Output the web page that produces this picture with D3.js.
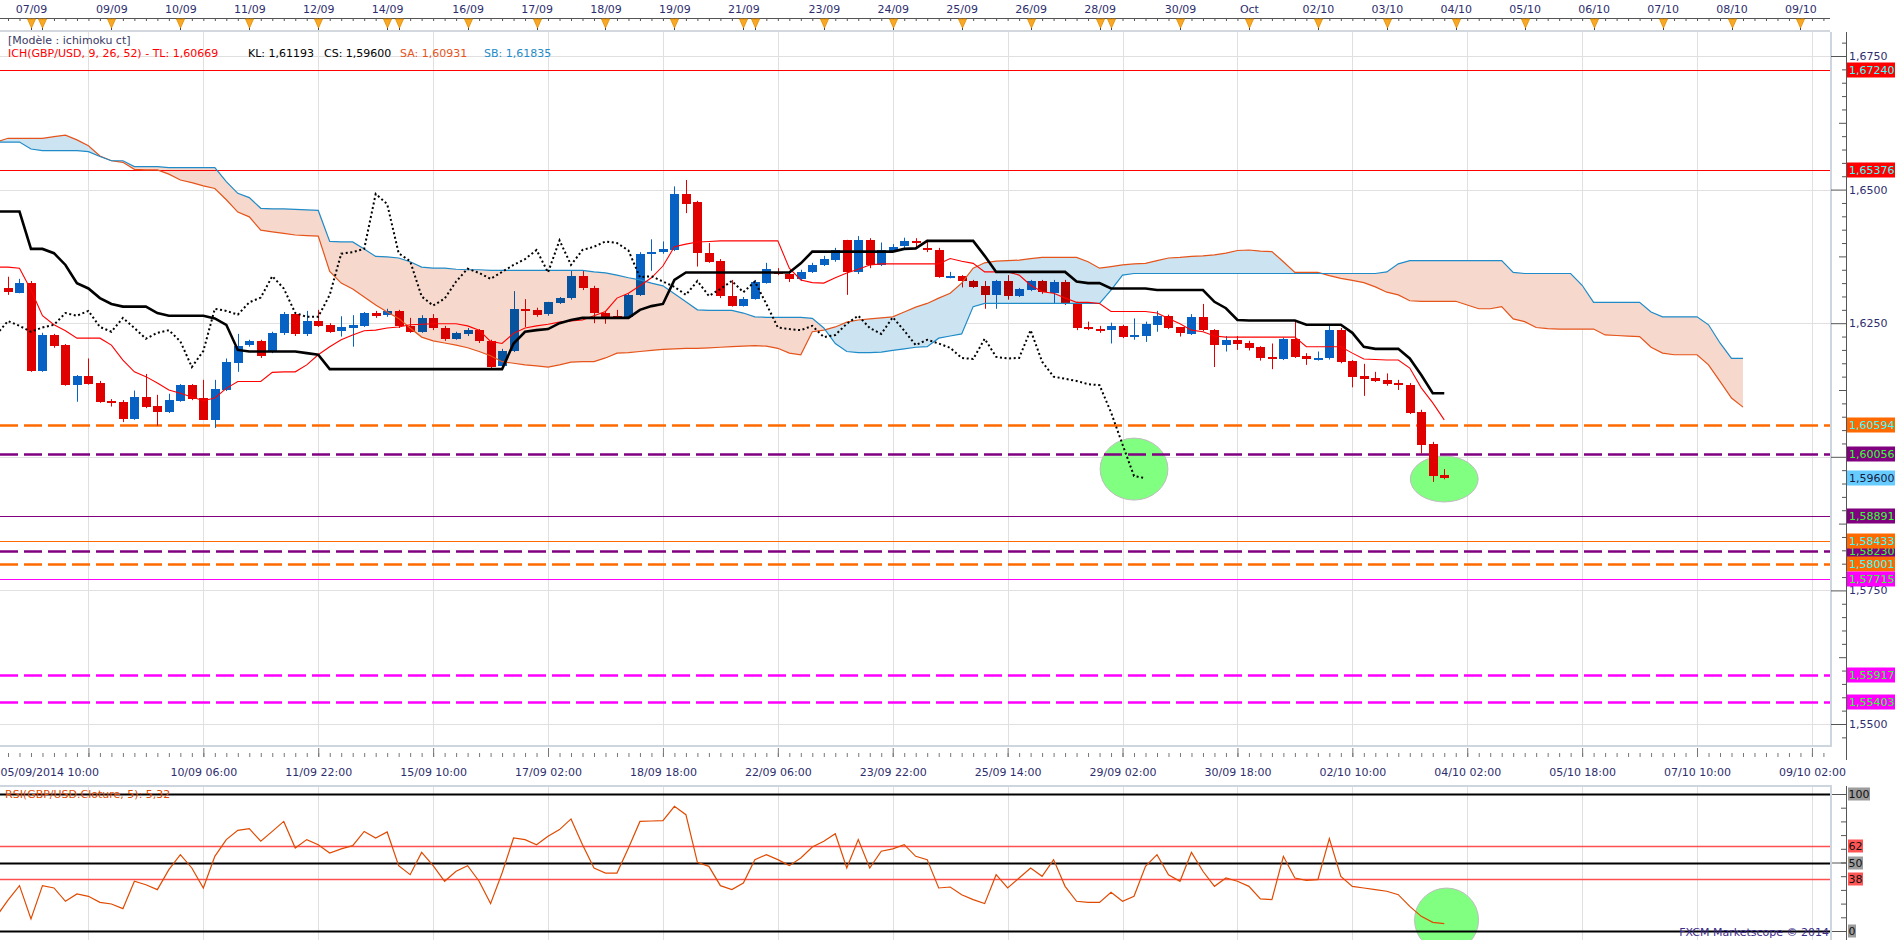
<!DOCTYPE html>
<html lang="fr">
<head>
<meta charset="UTF-8">
<title>GBP/USD H4 - Ichimoku</title>
<script src="https://d3js.org/d3.v7.min.js"></script>
<style>
  body { margin: 0; background: #ffffff; overflow: hidden; }
  svg { display: block; font-family: "DejaVu Sans", Verdana, sans-serif; font-size: 11px; }
  .cloud { mix-blend-mode: multiply; }
</style>
</head>
<body>
<svg width="1903" height="940"></svg>
<script>
// GBP/USD, bougies H4 du 05/09 au 03/10/2014 (index 0..125)
const open = [
  1.6315,1.6307,1.6325,1.6161,1.6228,1.6209,1.6135,1.6151,1.6139,1.6105,
  1.6103,1.6071,1.6112,1.6095,1.6084,1.6105,1.6135,1.6110,1.6069,1.6125,
  1.6176,1.6208,1.6216,1.6197,1.6232,1.6267,1.6229,1.6254,1.6247,1.6234,
  1.6241,1.6245,1.6269,1.6266,1.6272,1.6245,1.6234,1.6260,1.6241,1.6221,
  1.6230,1.6237,1.6217,1.6169,1.6198,1.6277,1.6275,1.6266,1.6289,1.6296,
  1.6338,1.6316,1.6270,1.6264,1.6262,1.6303,1.6380,1.6383,1.6387,1.6492,
  1.6476,1.6382,1.6366,1.6301,1.6283,1.6296,1.6326,1.6346,1.6343,1.6333,
  1.6346,1.6359,1.6368,1.6405,1.6345,1.6405,1.6359,1.6386,1.6393,1.6403,
  1.6390,1.6387,1.6335,1.6338,1.6329,1.6319,1.6303,1.6329,1.6301,1.6312,
  1.6329,1.6308,1.6328,1.6286,1.6242,1.6239,1.6237,1.6245,1.6224,1.6227,
  1.6247,1.6264,1.6242,1.6230,1.6261,1.6237,1.6209,1.6219,1.6213,1.6205,
  1.6187,1.6183,1.6221,1.6189,1.6184,1.6184,1.6237,1.6180,1.6151,1.6148,
  1.6144,1.6138,1.6135,1.6084,1.6024,1.5966];
const high = [
  1.6337,1.6333,1.6329,1.6232,1.6230,1.6211,1.6153,1.6184,1.6142,1.6108,
  1.6106,1.6124,1.6155,1.6116,1.6118,1.6136,1.6136,1.6144,1.6144,1.6184,
  1.6230,1.6219,1.6219,1.6234,1.6271,1.6271,1.6273,1.6275,1.6250,1.6263,
  1.6265,1.6271,1.6273,1.6277,1.6275,1.6260,1.6265,1.6267,1.6245,1.6234,
  1.6241,1.6239,1.6219,1.6202,1.6310,1.6295,1.6279,1.6290,1.6299,1.6348,
  1.6348,1.6320,1.6273,1.6275,1.6305,1.6383,1.6407,1.6403,1.6506,1.6518,
  1.6479,1.6400,1.6370,1.6331,1.6299,1.6331,1.6363,1.6353,1.6346,1.6350,
  1.6363,1.6376,1.6391,1.6406,1.6413,1.6409,1.6401,1.6398,1.6410,1.6409,
  1.6406,1.6391,1.6346,1.6340,1.6331,1.6329,1.6331,1.6340,1.6316,1.6331,
  1.6331,1.6331,1.6331,1.6290,1.6253,1.6245,1.6251,1.6247,1.6259,1.6253,
  1.6273,1.6266,1.6243,1.6267,1.6286,1.6239,1.6226,1.6226,1.6217,1.6207,
  1.6212,1.6223,1.6253,1.6194,1.6197,1.6245,1.6241,1.6181,1.6174,1.6159,
  1.6156,1.6144,1.6138,1.6088,1.6028,1.5977];
const low = [
  1.6303,1.6306,1.6159,1.6159,1.6204,1.6133,1.6103,1.6135,1.6101,1.6094,
  1.6065,1.6069,1.6091,1.6058,1.6082,1.6103,1.6106,1.6069,1.6054,1.6123,
  1.6159,1.6206,1.6185,1.6194,1.6228,1.6226,1.6226,1.6243,1.6232,1.6225,
  1.6206,1.6243,1.6260,1.6262,1.6241,1.6232,1.6232,1.6237,1.6217,1.6219,
  1.6226,1.6213,1.6166,1.6166,1.6196,1.6243,1.6262,1.6264,1.6286,1.6294,
  1.6312,1.6250,1.6249,1.6260,1.6260,1.6301,1.6348,1.6380,1.6385,1.6456,
  1.6356,1.6363,1.6297,1.6281,1.6281,1.6294,1.6324,1.6340,1.6327,1.6329,
  1.6344,1.6357,1.6365,1.6303,1.6342,1.6353,1.6357,1.6383,1.6391,1.6391,
  1.6383,1.6335,1.6334,1.6317,1.6316,1.6277,1.6277,1.6294,1.6299,1.6310,
  1.6305,1.6287,1.6284,1.6237,1.6237,1.6232,1.6212,1.6222,1.6219,1.6215,
  1.6234,1.6239,1.6225,1.6228,1.6235,1.6168,1.6197,1.6200,1.6199,1.6180,
  1.6164,1.6181,1.6185,1.6172,1.6180,1.6182,1.6175,1.6130,1.6114,1.6140,
  1.6133,1.6125,1.6080,1.6006,1.5953,1.5958];
const close = [
  1.6307,1.6325,1.6161,1.6228,1.6208,1.6135,1.6151,1.6136,1.6103,1.6102,
  1.6071,1.6112,1.6094,1.6084,1.6106,1.6135,1.6108,1.6069,1.6127,1.6178,
  1.6208,1.6216,1.6187,1.6232,1.6267,1.6229,1.6254,1.6245,1.6234,1.6242,
  1.6247,1.6269,1.6264,1.6273,1.6243,1.6234,1.6260,1.6241,1.6221,1.6232,
  1.6237,1.6216,1.6168,1.6198,1.6277,1.6273,1.6266,1.6289,1.6298,1.6338,
  1.6315,1.6269,1.6262,1.6262,1.6303,1.6380,1.6383,1.6389,1.6492,1.6473,
  1.6381,1.6366,1.6300,1.6283,1.6296,1.6328,1.6352,1.6344,1.6333,1.6346,
  1.6359,1.6370,1.6387,1.6345,1.6405,1.6359,1.6387,1.6393,1.6403,1.6400,
  1.6386,1.6336,1.6338,1.6328,1.6318,1.6303,1.6329,1.6301,1.6314,1.6329,
  1.6308,1.6328,1.6286,1.6242,1.6239,1.6237,1.6245,1.6224,1.6228,1.6249,
  1.6264,1.6241,1.6230,1.6261,1.6236,1.6209,1.6219,1.6212,1.6204,1.6185,
  1.6183,1.6221,1.6187,1.6184,1.6185,1.6237,1.6178,1.6150,1.6146,1.6142,
  1.6136,1.6134,1.6083,1.6023,1.5964,1.5960];

// lignes Ichimoku : le premier point est la bougie -1
const tenkan = [
  1.6355,1.6355,1.6353,1.6312,1.6264,1.6247,1.6236,1.6222,1.6222,1.6222,1.6209,
  1.6181,1.6159,1.6150,1.6138,1.6125,1.6119,1.6112,1.6105,1.6110,1.6128,
  1.6141,1.6141,1.6141,1.6158,1.6159,1.6159,1.6172,1.6191,1.6206,1.6219,
  1.6228,1.6236,1.6237,1.6241,1.6243,1.6247,1.6248,1.6249,1.6249,1.6249,
  1.6245,1.6237,1.6216,1.6212,1.6231,1.6241,1.6245,1.6248,1.6252,1.6254,
  1.6256,1.6264,1.6272,1.6297,1.6306,1.6320,1.6335,1.6357,1.6393,1.6398,
  1.6402,1.6403,1.6404,1.6404,1.6404,1.6404,1.6404,1.6404,1.6353,1.6331,
  1.6326,1.6325,1.6335,1.6344,1.6351,1.6359,1.6361,1.6361,1.6361,1.6361,
  1.6361,1.6361,1.6371,1.6366,1.6362,1.6346,1.6346,1.6346,1.6340,1.6321,
  1.6309,1.6306,1.6297,1.6289,1.6289,1.6287,1.6272,1.6272,1.6272,1.6272,
  1.6269,1.6259,1.6249,1.6237,1.6234,1.6226,1.6224,1.6224,1.6224,1.6224,
  1.6224,1.6224,1.6224,1.6206,1.6206,1.6206,1.6206,1.6194,1.6183,1.6182,
  1.6181,1.6181,1.6166,1.6129,1.6101,1.6069];
const kijun = [
  1.6459,1.6459,1.6459,1.6389,1.6389,1.6381,1.6359,1.6325,1.6315,1.6297,1.6286,
  1.6281,1.6281,1.6281,1.6269,1.6264,1.6264,1.6264,1.6264,1.6259,1.6247,
  1.6200,1.6197,1.6197,1.6197,1.6197,1.6197,1.6194,1.6191,1.6164,1.6164,
  1.6164,1.6164,1.6164,1.6164,1.6164,1.6164,1.6164,1.6164,1.6164,1.6164,
  1.6164,1.6164,1.6164,1.6164,1.6212,1.6234,1.6237,1.6239,1.6250,1.6256,
  1.6260,1.6260,1.6260,1.6260,1.6260,1.6275,1.6282,1.6286,1.6331,1.6345,
  1.6345,1.6345,1.6345,1.6345,1.6345,1.6345,1.6345,1.6345,1.6345,1.6362,
  1.6384,1.6384,1.6384,1.6384,1.6384,1.6384,1.6384,1.6384,1.6389,1.6390,
  1.6404,1.6404,1.6404,1.6404,1.6404,1.6376,1.6346,1.6346,1.6346,1.6346,
  1.6346,1.6346,1.6346,1.6328,1.6325,1.6325,1.6315,1.6315,1.6315,1.6315,
  1.6312,1.6312,1.6312,1.6312,1.6312,1.6290,1.6278,1.6256,1.6255,1.6255,
  1.6255,1.6255,1.6255,1.6247,1.6247,1.6247,1.6247,1.6232,1.6206,1.6202,
  1.6202,1.6202,1.6184,1.6153,1.6119,1.6119];
// Senkou spans, deja decales de 26 bougies (index -1 .. 151)
const spanA = [
  1.6589,
  1.6596,1.6596,1.6596,1.6596,1.6599,1.6602,1.6593,1.6582,1.6563,1.6554,
  1.6551,1.6538,1.6537,1.6537,1.6529,1.6518,1.6513,1.6507,1.6502,1.6481,
  1.6458,1.6449,1.6424,1.6421,1.6418,1.6415,1.6414,1.6413,1.6347,1.6325,
  1.6314,1.6299,1.6284,1.6271,1.6259,1.6241,1.6224,1.6217,1.6213,1.6209,
  1.6204,1.6197,1.6189,1.6178,1.6175,1.6172,1.6170,1.6168,1.6172,1.6177,
  1.6178,1.6178,1.6185,1.6194,1.6195,1.6197,1.6199,1.6201,1.6202,1.6203,
  1.6203,1.6204,1.6205,1.6206,1.6207,1.6208,1.6207,1.6203,1.6194,1.6191,
  1.6234,1.6237,1.6243,1.6252,1.6256,1.6258,1.6260,1.6262,1.6271,1.6280,
  1.6287,1.6297,1.6306,1.6325,1.6353,1.6363,1.6366,1.6367,1.6368,1.6371,
  1.6373,1.6373,1.6373,1.6373,1.6365,1.6353,1.6356,1.6359,1.6361,1.6362,
  1.6367,1.6372,1.6373,1.6375,1.6376,1.6378,1.6381,1.6386,1.6387,1.6385,
  1.6384,1.6365,1.6345,1.6345,1.6345,1.6339,1.6334,1.6330,1.6326,1.6318,
  1.6308,1.6303,1.6292,1.6291,1.6291,1.6291,1.6291,1.6284,1.6277,1.6277,
  1.6281,1.6258,1.6253,1.6242,1.6240,1.6239,1.6239,1.6239,1.6239,1.6228,
  1.6227,1.6226,1.6225,1.6205,1.6194,1.6191,1.6191,1.6191,1.6172,1.6141,
  1.6110,1.6093];
const spanB = [
  1.6589,
  1.6589,1.6589,1.6576,1.6573,1.6573,1.6573,1.6573,1.6571,1.6562,1.6554,
  1.6554,1.6543,1.6543,1.6543,1.6541,1.6541,1.6541,1.6541,1.6541,1.6515,
  1.6493,1.6485,1.6465,1.6464,1.6464,1.6463,1.6462,1.6461,1.6403,1.6402,
  1.6402,1.6389,1.6375,1.6374,1.6372,1.6365,1.6355,1.6353,1.6353,1.6351,
  1.6350,1.6350,1.6349,1.6349,1.6349,1.6349,1.6349,1.6349,1.6349,1.6349,
  1.6349,1.6346,1.6344,1.6340,1.6335,1.6331,1.6325,1.6320,1.6305,1.6290,
  1.6275,1.6274,1.6274,1.6274,1.6269,1.6262,1.6261,1.6261,1.6261,1.6261,
  1.6259,1.6241,1.6212,1.6197,1.6195,1.6195,1.6196,1.6199,1.6202,1.6205,
  1.6206,1.6222,1.6226,1.6230,1.6281,1.6287,1.6287,1.6287,1.6287,1.6287,
  1.6287,1.6287,1.6287,1.6287,1.6287,1.6287,1.6312,1.6340,1.6343,1.6343,
  1.6343,1.6343,1.6343,1.6343,1.6343,1.6343,1.6343,1.6343,1.6343,1.6343,
  1.6343,1.6343,1.6343,1.6343,1.6343,1.6343,1.6343,1.6343,1.6343,1.6343,
  1.6346,1.6361,1.6367,1.6367,1.6367,1.6367,1.6367,1.6367,1.6367,1.6367,
  1.6367,1.6345,1.6343,1.6343,1.6343,1.6343,1.6343,1.6321,1.6289,1.6289,
  1.6289,1.6289,1.6289,1.6271,1.6262,1.6262,1.6262,1.6262,1.6247,1.6213,
  1.6184,1.6184];
// RSI(5) de -1 .. 125
const rsi = [
  10.7,22.6,33.1,8.8,33.1,31.4,21.7,27.0,25.3,20.9,19.7,
  16.3,36.3,33.8,30.2,44.8,55.7,46.0,31.4,54.5,66.7,
  73.5,74.7,65.5,72.7,80.0,60.6,66.7,63.0,56.9,59.9,
  62.3,72.7,67.9,72.3,47.7,41.1,57.4,47.7,36.3,43.6,
  47.7,36.3,20.0,42.3,67.9,66.7,63.0,69.1,74.0,81.8,
  63.0,46.0,42.3,42.3,60.6,80.0,80.3,80.5,91.0,84.9,
  50.1,47.2,33.1,30.2,35.0,52.1,55.7,52.1,47.7,53.3,
  61.3,65.5,71.0,46.0,66.7,46.0,58.2,59.9,63.0,54.5,
  52.1,31.4,32.1,26.5,22.9,20.0,41.1,31.4,38.7,46.0,
  39.9,52.1,32.6,21.7,20.9,20.9,28.2,21.7,25.3,47.2,
  55.7,41.1,36.3,57.4,43.6,32.6,38.7,36.3,32.6,23.4,
  22.9,54.5,38.7,37.0,37.5,67.4,39.9,32.6,31.4,30.2,
  29.0,26.5,18.0,10.7,6.3,5.32];

// axe du haut : debut de chaque journee
const dayIndex = [2,3,9,15,21,27,33,34,40,46,52,58,64,65,71,77,83,89,95,96,102,108,114,120,126,132,138,144,150,156];
const dayLabels = ["07/09","","09/09","10/09","11/09","12/09","14/09","","16/09","17/09","18/09","19/09","21/09","","23/09","24/09","25/09","26/09","28/09","","30/09","Oct","02/10","03/10","04/10","05/10","06/10","07/10","08/10","09/10"];
// axe du bas
const timeIndex = [7,17,27,37,47,57,67,77,87,97,107,117,127,137,147,157];
const timeLabels = ["05/09/2014 10:00","10/09 06:00","11/09 22:00","15/09 10:00","17/09 02:00","18/09 18:00","22/09 06:00","23/09 22:00","25/09 14:00","29/09 02:00","30/09 18:00","02/10 10:00","04/10 02:00","05/10 18:00","07/10 10:00","09/10 02:00"];

// niveaux traces
const levelValues = [1.67240,1.65376,1.60594,1.60056,1.58891,1.58230,1.58433,1.58001,1.57715,1.55917,1.55403];
const levelColors = ["#ff0000","#ff0000","#ff6a00","#800080","#800080","#800080","#ff6a00","#ff6a00","#ff00ff","#ff00ff","#ff00ff"];
const levelDashed = [false,false,true,true,false,true,false,true,false,true,true];
const levelText = ["#3ff","#3ff","#3ff","#3f3","#3f3","#3f3","#3ff","#3ff","#3f3","#3f3","#3f3"];
const lastClose = 1.59600;

// legende (valeurs du dernier point)
const legendTL = 1.60669, legendKL = 1.61193, legendSA = 1.60931, legendSB = 1.61835;

const rsiLevels = [100,62,50,38,0];
const rsiLevelColors = ["#000","#ff5050","#000","#ff5050","#000"];
const rsiLevelBoxes = ["#9c9c9c","#ff5555","#9c9c9c","#ff5555","#9c9c9c"];

// cercles verts (index bougie, prix)
const markIndex = [98, 125];
const markPrice = [1.5977, 1.59585];

const svg = d3.select("svg");
const plotRight = 1830, axisX = 1846;
const mainTop = 32, mainBottom = 745, rsiTop = 786, rsiBottom = 940;
const ink = "#2e2e6e";

const x = d3.scaleLinear().domain([0, 156]).range([8, 8 + 156 * 11.49]);
const y = d3.scaleLinear().domain([1.55, 1.675]).range([724, 56]);
const yR = d3.scaleLinear().domain([0, 100]).range([931, 794]);

const fr = d3.formatLocale({decimal: ",", thousands: " ", grouping: [3], currency: ["", ""]});
const f4 = fr.format(".4f"), f5 = fr.format(".5f"), f2 = fr.format(".2f");

const defs = svg.append("defs");
defs.append("clipPath").attr("id", "clipMain").append("rect")
  .attr("x", 0).attr("y", mainTop).attr("width", plotRight).attr("height", mainBottom - mainTop);
defs.append("clipPath").attr("id", "clipRsi").append("rect")
  .attr("x", 0).attr("y", rsiTop).attr("width", plotRight).attr("height", rsiBottom - rsiTop);

// ---------- axe du haut ----------
const topAxis = svg.append("g");
topAxis.append("g").attr("transform", "translate(0,18)")
  .call(d3.axisBottom(x).tickValues(d3.range(-1, 159)).tickSize(3).tickFormat(""))
  .call(g => g.select(".domain").remove())
  .call(g => g.selectAll("line").attr("stroke", "#555"));
topAxis.append("line").attr("x1", 0).attr("x2", plotRight).attr("y1", 18.5).attr("y2", 18.5).attr("stroke", "#555");
topAxis.selectAll(".dayTick").data(dayIndex).join("line")
  .attr("x1", d => Math.round(x(d)) + 0.5).attr("x2", d => Math.round(x(d)) + 0.5)
  .attr("y1", 18).attr("y2", 31).attr("stroke", "#444");
topAxis.selectAll(".tri").data(dayIndex).join("path")
  .attr("d", d => { const c = Math.round(x(d)) + 0.5; return `M${c - 4},19L${c + 4},19L${c},28Z`; })
  .attr("fill", "#f9a825").attr("stroke", "#e08c00").attr("stroke-width", 0.8);
topAxis.append("g").attr("transform", "translate(0,18)")
  .call(d3.axisTop(x).tickValues(dayIndex.filter((d, k) => dayLabels[k] !== "")).tickSize(0).tickPadding(5)
    .tickFormat(d => dayLabels[dayIndex.indexOf(d)]))
  .call(g => g.select(".domain").remove())
  .call(g => g.selectAll("text").attr("fill", ink).attr("font-family", "DejaVu Sans").attr("font-size", 11));
svg.append("rect").attr("x", 0).attr("y", 30).attr("width", plotRight).attr("height", 2).attr("fill", "#d3d8df");

// ---------- grille principale ----------
const grid = svg.append("g");
grid.selectAll(".h").data(d3.range(0, 6).map(k => 1.55 + k * 0.025)).join("line")
  .attr("x1", 0).attr("x2", plotRight)
  .attr("y1", d => Math.round(y(d)) + 0.5).attr("y2", d => Math.round(y(d)) + 0.5)
  .attr("stroke", "#e0e0e0");
grid.selectAll(".v").data(timeIndex).join("line")
  .attr("x1", d => Math.round(x(d)) + 0.5).attr("x2", d => Math.round(x(d)) + 0.5)
  .attr("y1", mainTop).attr("y2", mainBottom).attr("stroke", "#e0e0e0");

const plot = svg.append("g").attr("clip-path", "url(#clipMain)");

// cercles verts
plot.selectAll(".mark").data(markIndex).join("ellipse")
  .attr("cx", d => x(d)).attr("cy", (d, k) => y(markPrice[k]))
  .attr("rx", x(2.95) - x(0)).attr("ry", (d, k) => k === 0 ? 31 : 23)
  .attr("fill", "#80ff80").attr("stroke", "#bdbdbd");

// niveaux horizontaux
plot.selectAll(".lvl").data(levelValues).join("line")
  .attr("x1", 0).attr("x2", plotRight)
  .attr("y1", d => Math.round(y(d)) + 0.5).attr("y2", d => Math.round(y(d)) + 0.5)
  .attr("stroke", (d, k) => levelColors[k])
  .attr("stroke-width", (d, k) => levelDashed[k] ? 2.6 : 1.2)
  .attr("stroke-dasharray", (d, k) => levelDashed[k] ? "18,6" : null);

// bougies
const idx = d3.range(open.length);
const colorOf = i => close[i] >= open[i] ? "#0862c4" : "#e00000";
plot.append("g").selectAll("line").data(idx).join("line")
  .attr("x1", i => Math.round(x(i)) + 0.5).attr("x2", i => Math.round(x(i)) + 0.5)
  .attr("y1", i => y(high[i])).attr("y2", i => y(low[i]))
  .attr("stroke", colorOf);
plot.append("g").selectAll("rect").data(idx).join("rect")
  .attr("x", i => Math.round(x(i)) - 4).attr("width", 9)
  .attr("y", i => Math.round(y(Math.max(open[i], close[i]))))
  .attr("height", i => Math.max(2, Math.round(Math.abs(y(open[i]) - y(close[i])))))
  .attr("fill", colorOf);

// nuage
const cloudIdx = d3.range(spanA.length);
const cx = k => x(k - 1);
defs.append("clipPath").attr("id", "belowA").append("path")
  .attr("d", d3.area().x(cx).y0(k => y(spanA[k])).y1(mainBottom + 40)(cloudIdx));
defs.append("clipPath").attr("id", "belowB").append("path")
  .attr("d", d3.area().x(cx).y0(k => y(spanB[k])).y1(mainBottom + 40)(cloudIdx));
const cloud = plot.append("g").attr("class", "cloud");
cloud.append("path").attr("clip-path", "url(#belowA)").attr("fill", "#cce4f1")
  .attr("d", d3.area().x(cx).y0(mainTop - 40).y1(k => y(spanB[k]))(cloudIdx));
cloud.append("path").attr("clip-path", "url(#belowB)").attr("fill", "#f6d8cc")
  .attr("d", d3.area().x(cx).y0(mainTop - 40).y1(k => y(spanA[k]))(cloudIdx));

const line = d3.line().x((d, k) => x(k - 1)).y(d => y(d));
plot.append("path").attr("d", line(spanA)).attr("fill", "none").attr("stroke", "#e5541b").attr("stroke-width", 1.2);
plot.append("path").attr("d", line(spanB)).attr("fill", "none").attr("stroke", "#1f8bc8").attr("stroke-width", 1.2);
plot.append("path").attr("d", line(tenkan)).attr("fill", "none").attr("stroke", "#ff0000").attr("stroke-width", 1.1);
plot.append("path").attr("d", line(kijun)).attr("fill", "none").attr("stroke", "#000").attr("stroke-width", 2.6);
// chikou : cloture decalee de 26 bougies en arriere
plot.append("path").attr("d", line(close.slice(25))).attr("fill", "none")
  .attr("stroke", "#000").attr("stroke-width", 2).attr("stroke-dasharray", "2,2.6");

// bordures du panneau
svg.append("line").attr("x1", plotRight + 1).attr("x2", plotRight + 1).attr("y1", mainTop).attr("y2", mainBottom + 1)
  .attr("stroke", "#cdd5df").attr("stroke-width", 2);
svg.append("line").attr("x1", 0).attr("x2", plotRight + 2).attr("y1", mainBottom + 1).attr("y2", mainBottom + 1)
  .attr("stroke", "#cdd5df").attr("stroke-width", 2);

// legende
const leg = svg.append("g");
leg.append("text").attr("x", 8).attr("y", 44).attr("fill", "#3a3a66").text("[Modèle : ichimoku ct]");
const legItems = [
  {t: "ICH(GBP/USD, 9, 26, 52) -  TL: " + f5(legendTL), c: "#ff0000", x: 8},
  {t: "KL: " + f5(legendKL), c: "#000", x: 248},
  {t: "CS: " + f5(lastClose), c: "#000", x: 324},
  {t: "SA: " + f5(legendSA), c: "#e5541b", x: 400},
  {t: "SB: " + f5(legendSB), c: "#1f8bc8", x: 484}
];
leg.selectAll(".li").data(legItems).join("text")
  .attr("x", d => d.x).attr("y", 57).attr("fill", d => d.c).text(d => d.t);

// ---------- axe des prix ----------
const ra = svg.append("g").attr("transform", `translate(${axisX},0)`);
const allTicks = d3.range(619, 672).map(k => k * 0.0025);
const tickKind = v => { const k = Math.round(v / 0.0025); return k % 10 === 0 ? 15 : (k % 5 === 0 ? 7 : 4); };
[4, 7, 15].forEach(len => {
  ra.append("g")
    .call(d3.axisLeft(y).tickValues(allTicks.filter(v => tickKind(v) === len && y(v) > mainTop && y(v) < mainBottom + 8))
      .tickSize(len).tickFormat(""))
    .call(g => g.select(".domain").remove())
    .call(g => g.selectAll("line").attr("stroke", "#555"));
});
ra.append("line").attr("x1", 0.5).attr("x2", 0.5).attr("y1", mainTop).attr("y2", 760).attr("stroke", "#555");
// une graduation cachee par une etiquette de niveau n'est pas ecrite
const priceTicks = d3.range(0, 6).map(k => 1.55 + k * 0.025)
  .filter(v => levelValues.every(l => Math.abs(y(v) - y(l)) > 9));
ra.append("g")
  .call(d3.axisRight(y).tickValues(priceTicks).tickSize(0).tickPadding(3).tickFormat(f4))
  .call(g => g.select(".domain").remove())
  .call(g => g.selectAll("text").attr("fill", ink).attr("font-family", "DejaVu Sans").attr("font-size", 11));

// etiquettes des niveaux
const tags = svg.append("g");
const tagData = levelValues.map((v, k) => ({v, bg: levelColors[k], fg: levelText[k]}));
tagData.push({v: lastClose, bg: "#66ccff", fg: "#1a1a40"});
const tag = tags.selectAll("g").data(tagData).join("g")
  .attr("transform", d => `translate(${axisX + 1},${Math.round(y(d.v))})`);
tag.append("rect").attr("x", 0).attr("y", -7.5).attr("width", 48).attr("height", 15).attr("fill", d => d.bg);
tag.append("text").attr("x", 2).attr("y", 4).attr("fill", d => d.fg).text(d => f5(d.v));

// ---------- axe du bas ----------
const bot = svg.append("g").attr("transform", "translate(0,757)");
bot.append("g")
  .call(d3.axisTop(x).tickValues(d3.range(0, 159)).tickSize(4).tickFormat(""))
  .call(g => g.select(".domain").remove())
  .call(g => g.selectAll("line").attr("stroke", "#777"));
bot.append("g")
  .call(d3.axisTop(x).tickValues(timeIndex).tickSize(9).tickFormat(""))
  .call(g => g.select(".domain").remove())
  .call(g => g.selectAll("line").attr("stroke", "#777"));
bot.append("g")
  .call(d3.axisBottom(x).tickValues(timeIndex).tickSize(0).tickPadding(11).tickFormat((d, k) => timeLabels[k]))
  .call(g => g.select(".domain").remove())
  .call(g => g.selectAll("text").attr("fill", ink).attr("font-family", "DejaVu Sans").attr("font-size", 11))
  .call(g => g.select(".tick text").attr("text-anchor", "start").attr("x", -x(timeIndex[0])));

// ---------- panneau RSI ----------
const rp = svg.append("g");
rp.append("line").attr("x1", 0).attr("x2", plotRight + 2).attr("y1", rsiTop).attr("y2", rsiTop)
  .attr("stroke", "#cdd5df").attr("stroke-width", 2);
rp.append("line").attr("x1", plotRight + 1).attr("x2", plotRight + 1).attr("y1", rsiTop).attr("y2", rsiBottom)
  .attr("stroke", "#cdd5df").attr("stroke-width", 2);
rp.selectAll(".v").data(timeIndex).join("line")
  .attr("x1", d => Math.round(x(d)) + 0.5).attr("x2", d => Math.round(x(d)) + 0.5)
  .attr("y1", rsiTop + 1).attr("y2", rsiBottom).attr("stroke", "#e0e0e0");
const rclip = rp.append("g").attr("clip-path", "url(#clipRsi)");
rclip.append("ellipse").attr("cx", x(125.2)).attr("cy", yR(8)).attr("rx", 32).attr("ry", 32)
  .attr("fill", "#80ff80").attr("stroke", "#bdbdbd");
rclip.selectAll(".rl").data(rsiLevels).join("line")
  .attr("x1", 0).attr("x2", plotRight)
  .attr("y1", d => Math.round(yR(d)) + 0.5).attr("y2", d => Math.round(yR(d)) + 0.5)
  .attr("stroke", (d, k) => rsiLevelColors[k]).attr("stroke-width", (d, k) => rsiLevelColors[k] === "#000" ? 2 : 1.4);
rclip.append("path")
  .attr("d", d3.line().x((d, k) => x(k - 1)).y(d => yR(d))(rsi))
  .attr("fill", "none").attr("stroke", "#e04a00").attr("stroke-width", 1.2);
rp.append("text").attr("x", 5).attr("y", 798).attr("fill", "#e04a00")
  .text("RSI(GBP/USD.Cloture, 5): " + f2(rsi[rsi.length - 1]));
rp.append("text").attr("x", 1829).attr("y", 936).attr("text-anchor", "end").attr("fill", "#3a2a8a")
  .text("FXCM Marketscope © 2014");

const rax = svg.append("g").attr("transform", `translate(${axisX},0)`);
rax.append("line").attr("x1", 0.5).attr("x2", 0.5).attr("y1", rsiTop).attr("y2", rsiBottom).attr("stroke", "#555");
rax.append("g")
  .call(d3.axisLeft(yR).tickValues(d3.range(0, 101, 10)).tickSize(5).tickFormat(""))
  .call(g => g.select(".domain").remove())
  .call(g => g.selectAll("line").attr("stroke", "#555"));
rax.append("g")
  .call(d3.axisLeft(yR).tickValues([0, 50, 100]).tickSize(14).tickFormat(""))
  .call(g => g.select(".domain").remove())
  .call(g => g.selectAll("line").attr("stroke", "#555"));
const rtag = rax.selectAll(".rt").data(rsiLevels).join("g")
  .attr("transform", d => `translate(2,${Math.round(yR(d))})`);
rtag.append("rect").attr("x", 0).attr("y", -6.5).attr("height", 13)
  .attr("width", d => String(d).length * 7 + 1).attr("fill", (d, k) => rsiLevelBoxes[k]);
rtag.append("text").attr("x", 0.5).attr("y", 4).attr("fill", "#111").text(d => d);
</script>
</body>
</html>
